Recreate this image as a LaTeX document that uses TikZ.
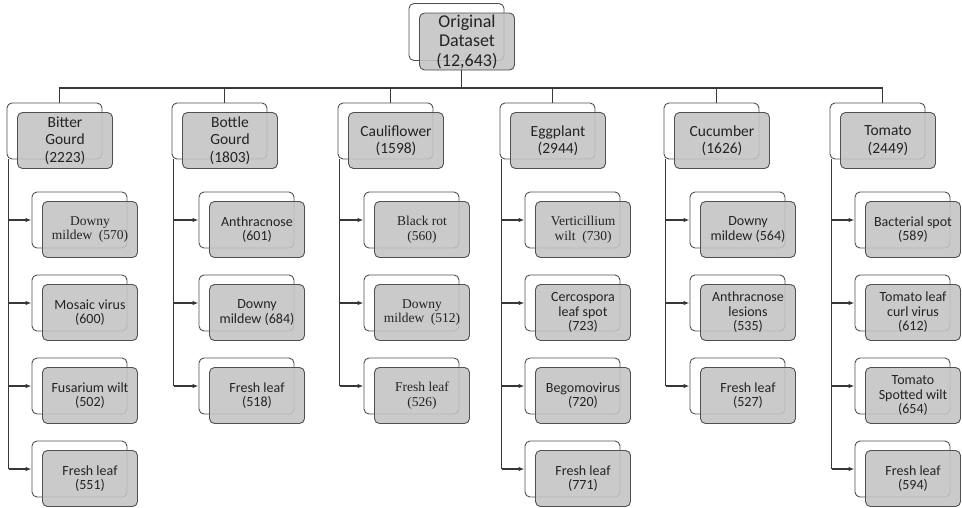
\documentclass[tikz,border=0pt]{standalone}
\usepackage{fontspec}
\setmainfont{Carlito}
\newfontfamily\leafserif{Liberation Serif}
\usetikzlibrary{arrows.meta,backgrounds,calc}
\definecolor{edgegray}{RGB}{80,80,80}
\definecolor{linegray}{RGB}{55,55,55}
\definecolor{fillgray}{RGB}{195,195,195}
\definecolor{txtgray}{RGB}{35,35,35}
\tikzset{
  boxbase/.style={rounded corners=5pt, draw=edgegray, line width=0.9pt,
    minimum width=95pt, minimum height=56pt, inner sep=0pt, align=center, text=txtgray},
  backbox/.style={boxbase, fill=white},
  frontbox/.style={boxbase, fill=fillgray, fill opacity=0.88, text opacity=1},
  topfont/.style={font=\fontsize{18}{19.5}\selectfont},
  catfont/.style={font=\fontsize{15.5}{17.5}\selectfont},
  leaffont/.style={font=\fontsize{14}{14.5}\selectfont},
  seriffont/.style={font=\leafserif\fontsize{13.5}{14.5}\selectfont},
  link/.style={draw=linegray, line width=1.2pt},
  feed/.style={link, -{Latex[length=6pt,width=4.5pt]}},
}
\newcommand\pairbox[5]{%
  \node[backbox,#4] (#1-b) at (#2+47.5,#3+28) {};
  \node[frontbox,#4] (#1) at (#2+58,#3+37.5) {#5};}
\begin{document}
\begin{tikzpicture}[x=1pt,y=-1pt]
\useasboundingbox (0,0) rectangle (962,507);
% root
\pairbox{top}{409}{4}{topfont,minimum height=57pt}{Original\\Dataset\\(12,643)}
% categories
\pairbox{bit}{7}{103}{catfont}{Bitter\\Gourd\\(2223)}
\pairbox{bot}{172}{103}{catfont}{Bottle\\Gourd\\(1803)}
\pairbox{cau}{338}{103}{catfont}{Cauliflower\\(1598)}
\pairbox{egg}{500}{103}{catfont}{Eggplant\\(2944)}
\pairbox{cuc}{664}{103}{catfont}{Cucumber\\(1626)}
\pairbox{tom}{830}{103}{catfont}{Tomato\\(2449)}
% Bitter Gourd leaves
\pairbox{bit1}{32}{192}{seriffont}{Downy\\mildew\ \ (570)}
\pairbox{bit2}{32}{275}{leaffont}{Mosaic virus\\(600)}
\pairbox{bit3}{32}{358}{leaffont}{Fusarium wilt\\(502)}
\pairbox{bit4}{32}{441}{leaffont}{Fresh leaf\\(551)}
% Bottle Gourd leaves
\pairbox{bot1}{199}{192}{leaffont}{Anthracnose\\(601)}
\pairbox{bot2}{199}{275}{leaffont}{Downy\\mildew (684)}
\pairbox{bot3}{199}{358}{leaffont}{Fresh leaf\\(518)}
% Cauliflower leaves
\pairbox{cau1}{364}{192}{seriffont}{Black rot\\(560)}
\pairbox{cau2}{364}{275}{seriffont}{Downy\\mildew\ \ (512)}
\pairbox{cau3}{364}{358}{seriffont}{Fresh leaf\\(526)}
% Eggplant leaves
\pairbox{egg1}{525}{192}{seriffont}{Verticillium\\wilt\ \ (730)}
\pairbox{egg2}{525}{275}{leaffont}{Cercospora\\leaf spot\\(723)}
\pairbox{egg3}{525}{358}{leaffont}{Begomovirus\\(720)}
\pairbox{egg4}{525}{441}{leaffont}{Fresh leaf\\(771)}
% Cucumber leaves
\pairbox{cuc1}{690}{192}{leaffont}{Downy\\mildew (564)}
\pairbox{cuc2}{690}{275}{leaffont}{Anthracnose\\lesions\\(535)}
\pairbox{cuc3}{690}{358}{leaffont}{Fresh leaf\\(527)}
% Tomato leaves
\pairbox{tom1}{855}{192}{leaffont}{Bacterial spot\\(589)}
\pairbox{tom2}{855}{275}{leaffont}{Tomato leaf\\curl virus\\(612)}
\pairbox{tom3}{855}{358}{leaffont}{Tomato\\Spotted wilt\\(654)}
\pairbox{tom4}{855}{441}{leaffont}{Fresh leaf\\(594)}
% connectors
\coordinate (top-d) at ($(top-b.south)!.5!(top.south)$);
\coordinate (bus) at (0,88);
\begin{pgfonlayer}{background}
\foreach \c/\last in {bit/bit4,bot/bot3,cau/cau3,egg/egg4,cuc/cuc3,tom/tom4}{
  \coordinate (\c-d) at ($(\c-b.north)!.5!(\c.north)$);
  \draw[link] (top-d) |- (bus -| \c-d) -- (\c-d);
  \coordinate (\c-l) at ([xshift=2pt]\c-b.south west);
  \draw[link] (\c-l) -- (\c-l |- \last-b.west);
}
\end{pgfonlayer}
\foreach \c/\leaf in {bit/bit1,bit/bit2,bit/bit3,bit/bit4,bot/bot1,bot/bot2,bot/bot3,
  cau/cau1,cau/cau2,cau/cau3,egg/egg1,egg/egg2,egg/egg3,egg/egg4,
  cuc/cuc1,cuc/cuc2,cuc/cuc3,tom/tom1,tom/tom2,tom/tom3,tom/tom4}{
  \draw[feed] (\c-l |- \leaf-b.west) -- (\leaf-b.west);
}
\end{tikzpicture}
\end{document}
